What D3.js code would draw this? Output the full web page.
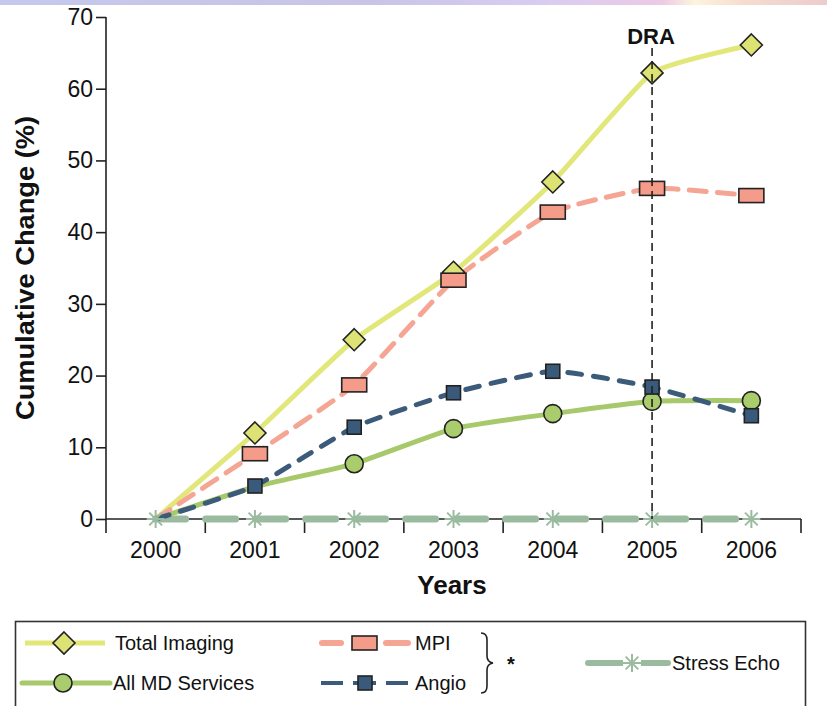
<!DOCTYPE html>
<html>
<head>
<meta charset="utf-8">
<script src="https://cdn.jsdelivr.net/npm/d3@7"></script>
<style>
  html, body { margin: 0; padding: 0; background: #fff; }
  svg { display: block; }
</style>
</head>
<body>
<svg id="chart" width="827" height="706"></svg>
<script>
// Years on the x axis
const years = ["2000", "2001", "2002", "2003", "2004", "2005", "2006"];
const yTicks = [0, 10, 20, 30, 40, 50, 60, 70];

// Cumulative change (%) per series
const totalImaging = [0, 12, 25, 34.4, 47, 62.2, 66.1];
const mpi          = [0, 9.1, 18.7, 33.3, 42.8, 46.1, 45.1];
const angio        = [0, 4.6, 12.8, 17.6, 20.6, 18.4, 14.4];
const allMD        = [0, 4.5, 7.7, 12.6, 14.7, 16.4, 16.5];
const stressEcho   = [0, 0, 0, 0, 0, 0, 0];

const draYear = "2005";

const svg = d3.select("#chart");

// thin banner strip along the top edge
const defs = svg.append("defs");
const grad = defs.append("linearGradient").attr("id", "band").attr("x1", 0).attr("x2", 1);
[[0, "#c5c9ec"], [0.45, "#c9c4e6"], [0.66, "#d8cdf1"], [0.8, "#edc9e5"], [0.84, "#fcf4de"], [0.9, "#f6dccf"], [1, "#eccbcd"]]
  .forEach(([o, c]) => grad.append("stop").attr("offset", o).attr("stop-color", c));
svg.append("rect").attr("x", 0).attr("y", 0).attr("width", 827).attr("height", 5).attr("fill", "url(#band)");

const x = d3.scaleBand().domain(years).range([106, 801]).padding(0);
const y = d3.scaleLinear().domain([0, 70]).range([519, 17]);
const cx = d => x(d) + x.bandwidth() / 2;

const tickFont = "'Liberation Sans', Arial, Helvetica, sans-serif";
const axisColor = "#222";

// y axis
const yAxis = svg.append("g").attr("transform", "translate(106,0)")
  .call(d3.axisLeft(y).tickValues(yTicks).tickSize(10).tickPadding(3));
yAxis.select(".domain").remove();
yAxis.append("line").attr("x1", 0).attr("x2", 0).attr("y1", 17).attr("y2", 533)
  .attr("stroke", axisColor).attr("stroke-width", 1.6);
yAxis.selectAll(".tick line").attr("stroke", axisColor).attr("stroke-width", 1.6);
yAxis.selectAll(".tick text").attr("font-family", tickFont).attr("font-size", 23).attr("fill", "#111");

// x axis: labels centred in each year band, ticks on band edges
svg.append("line").attr("x1", 106).attr("x2", 801).attr("y1", y(0)).attr("y2", y(0))
  .attr("stroke", axisColor).attr("stroke-width", 1.6);
const edges = years.slice(1).map(d => x(d)).concat([x(years[years.length - 1]) + x.bandwidth()]);
svg.append("g").selectAll("line").data(edges).join("line")
  .attr("x1", d => d).attr("x2", d => d).attr("y1", y(0)).attr("y2", y(0) + 14)
  .attr("stroke", axisColor).attr("stroke-width", 1.6);
svg.append("g").selectAll("text").data(years).join("text")
  .attr("x", d => cx(d)).attr("y", 558)
  .attr("text-anchor", "middle").attr("font-family", tickFont).attr("font-size", 23).attr("fill", "#111")
  .text(d => d);

// axis titles
svg.append("text").attr("x", 452).attr("y", 594).attr("text-anchor", "middle")
  .attr("font-family", tickFont).attr("font-weight", "bold").attr("font-size", 26).attr("fill", "#111")
  .text("Years");
svg.append("text").attr("transform", "translate(34,268) rotate(-90)").attr("text-anchor", "middle")
  .attr("font-family", tickFont).attr("font-weight", "bold").attr("font-size", 25).attr("fill", "#111")
  .attr("textLength", 304).attr("lengthAdjust", "spacingAndGlyphs")
  .text("Cumulative Change (%)");

// series definitions
const series = [
  { name: "All MD Services", values: allMD, color: "#a7c96b", fill: "#a9cc6c", dash: null, marker: "circle", from: 2 },
  { name: "Total Imaging", values: totalImaging, color: "#e2e77a", fill: "#dde274", dash: null, marker: "diamond", from: 1 },
  { name: "MPI", values: mpi, color: "#f5a593", fill: "#f59b89", dash: "17,11", marker: "rect", from: 1 },
  { name: "Angio", values: angio, color: "#3c5b7a", fill: "#3a5a7b", dash: "14,12", marker: "square", from: 1 }
];

const line = d3.line().x((d, i) => cx(years[i])).y(d => y(d)).curve(d3.curveCardinal.tension(0.55));

// Stress Echo runs along the baseline
svg.append("path").datum(stressEcho)
  .attr("d", d3.line().x((d, i) => cx(years[i])).y(d => y(d)))
  .attr("fill", "none").attr("stroke", "#9bbba0").attr("stroke-width", 7)
  .attr("stroke-linecap", "round").attr("stroke-dasharray", "30,20");

series.forEach(s => {
  svg.append("path").datum(s.values).attr("d", line)
    .attr("fill", "none").attr("stroke", s.color).attr("stroke-width", 5)
    .attr("stroke-dasharray", s.dash).attr("stroke-linecap", s.dash ? "round" : "butt");
});

function drawMarker(g, type, fill, px, py) {
  const stroke = "#222", sw = 1.6;
  if (type === "circle") {
    g.append("circle").attr("cx", px).attr("cy", py).attr("r", 9)
      .attr("fill", fill).attr("stroke", stroke).attr("stroke-width", sw);
  } else if (type === "diamond") {
    g.append("path").attr("d", `M${px},${py - 11}L${px + 11},${py}L${px},${py + 11}L${px - 11},${py}Z`)
      .attr("fill", fill).attr("stroke", stroke).attr("stroke-width", sw);
  } else if (type === "rect") {
    g.append("rect").attr("x", px - 12.5).attr("y", py - 7).attr("width", 25).attr("height", 14)
      .attr("fill", fill).attr("stroke", stroke).attr("stroke-width", sw);
  } else if (type === "square") {
    g.append("rect").attr("x", px - 7).attr("y", py - 7).attr("width", 14).attr("height", 14)
      .attr("fill", fill).attr("stroke", stroke).attr("stroke-width", sw);
  } else if (type === "asterisk") {
    const r = 9;
    [0, 45, 90, 135].forEach(a => {
      const rad = a * Math.PI / 180;
      g.append("line")
        .attr("x1", px - r * Math.cos(rad)).attr("y1", py - r * Math.sin(rad))
        .attr("x2", px + r * Math.cos(rad)).attr("y2", py + r * Math.sin(rad))
        .attr("stroke", "#9bbba0").attr("stroke-width", 2);
    });
  }
}

const markers = svg.append("g");
series.forEach(s => {
  s.values.forEach((v, i) => {
    if (i < s.from) return;
    drawMarker(markers, s.marker, s.fill, cx(years[i]), y(v));
  });
});
stressEcho.forEach((v, i) => drawMarker(markers, "asterisk", null, cx(years[i]), y(v)));

// DRA reference line
svg.append("line").attr("x1", cx(draYear)).attr("x2", cx(draYear)).attr("y1", 48).attr("y2", y(0))
  .attr("stroke", "#222").attr("stroke-width", 1.6).attr("stroke-dasharray", "8,5");
svg.append("text").attr("x", cx(draYear) - 1).attr("y", 44).attr("text-anchor", "middle")
  .attr("font-family", tickFont).attr("font-weight", "bold").attr("font-size", 22).attr("fill", "#111")
  .text("DRA");

// legend
const legFont = "'Liberation Sans Narrow', 'Arial Narrow', 'Liberation Sans', Arial, sans-serif";
const leg = svg.append("g");
leg.append("rect").attr("x", 15.5).attr("y", 621.5).attr("width", 790).attr("height", 100)
  .attr("fill", "#fff").attr("stroke", "#333").attr("stroke-width", 1.6);

function legText(tx, ty, t) {
  leg.append("text").attr("x", tx).attr("y", ty).attr("dy", "0.35em")
    .attr("font-family", legFont).attr("font-size", 20).attr("fill", "#111").text(t);
}
// Total Imaging
leg.append("line").attr("x1", 25).attr("x2", 105).attr("y1", 643).attr("y2", 643)
  .attr("stroke", "#e2e77a").attr("stroke-width", 5);
drawMarker(leg, "diamond", "#dde274", 64, 643);
legText(115, 643, "Total Imaging");
// All MD Services
leg.append("line").attr("x1", 22).attr("x2", 110).attr("y1", 683).attr("y2", 683)
  .attr("stroke", "#a7c96b").attr("stroke-width", 5).attr("stroke-linecap", "round");
drawMarker(leg, "circle", "#a9cc6c", 63, 683);
legText(113, 683, "All MD Services");
// MPI
[[322, 341], [386, 408]].forEach(([a, b]) => leg.append("line").attr("x1", a).attr("x2", b)
  .attr("y1", 643).attr("y2", 643).attr("stroke", "#f5a593").attr("stroke-width", 6).attr("stroke-linecap", "round"));
drawMarker(leg, "rect", "#f59b89", 364.5, 643);
legText(415, 643, "MPI");
// Angio
[[321, 343], [353, 376], [386, 408]].forEach(([a, b]) => leg.append("line").attr("x1", a).attr("x2", b)
  .attr("y1", 683).attr("y2", 683).attr("stroke", "#3c5b7a").attr("stroke-width", 4));
drawMarker(leg, "square", "#3a5a7b", 365, 683);
legText(415, 683, "Angio");
// brace grouping MPI and Angio
leg.append("path")
  .attr("d", "M481,633 Q487,633 487,640 L487,656 Q487,662 493,663 Q487,664 487,670 L487,686 Q487,693 481,693")
  .attr("fill", "none").attr("stroke", "#222").attr("stroke-width", 1.6);
leg.append("text").attr("x", 511).attr("y", 671).attr("text-anchor", "middle")
  .attr("font-family", tickFont).attr("font-weight", "bold").attr("font-size", 20).attr("fill", "#111").text("*");
// Stress Echo
leg.append("line").attr("x1", 588).attr("x2", 668).attr("y1", 663).attr("y2", 663)
  .attr("stroke", "#9bbba0").attr("stroke-width", 6).attr("stroke-linecap", "round");
leg.append("rect").attr("x", 623).attr("y", 656).attr("width", 18).attr("height", 14).attr("fill", "#fff");
drawMarker(leg, "asterisk", null, 632, 663);
legText(672, 663, "Stress Echo");
</script>
</body>
</html>
